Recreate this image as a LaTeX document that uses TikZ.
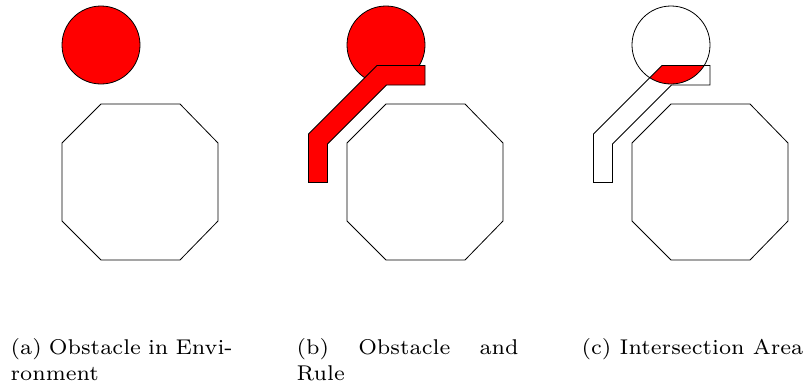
\documentclass[tikz,border=0pt]{standalone}
\tikzset{
  outline/.style={draw=black, line width=0.8pt, line join=miter},
  obstacle/.style={outline, fill=red},
  caption/.style={anchor=north west, inner sep=0pt, scale=3.05,
    text width=72.8pt, align=justify, font=\fontsize{7}{8.36}\selectfont}
}
\begin{document}
\begin{tikzpicture}[x=1pt, y=-1pt]
  \useasboundingbox (0,0) rectangle (805,389);

  % panel (a): obstacle next to the robot
  \begin{scope}
    \draw[obstacle] (101,45) circle (39);
    \draw[outline] (101,104) -- (180,104) -- (218,143) -- (218,221)
      -- (180,260) -- (101,260) -- (62,221) -- (62,143) -- cycle;
  \end{scope}

  % panel (b): obstacle and rule region
  \begin{scope}[shift={(285,0)}]
    \draw[obstacle] (101,45) circle (39);
    \draw[obstacle] (23.5,134) -- (92,65.5) -- (140,65.5) -- (140,85)
      -- (101.5,85) -- (42.5,144) -- (42.5,182.5) -- (23.5,182.5) -- cycle;
    \draw[outline] (101,104) -- (180,104) -- (218,143) -- (218,221)
      -- (180,260) -- (101,260) -- (62,221) -- (62,143) -- cycle;
  \end{scope}

  % panel (c): overlap of obstacle and rule region
  \begin{scope}[shift={(570,0)}]
    \begin{scope}
      \clip (101,45) circle (39);
      \fill[red] (23.5,134) -- (92,65.5) -- (140,65.5) -- (140,85)
        -- (101.5,85) -- (42.5,144) -- (42.5,182.5) -- (23.5,182.5) -- cycle;
    \end{scope}
    \draw[outline] (101,45) circle (39);
    \draw[outline] (23.5,134) -- (92,65.5) -- (140,65.5) -- (140,85)
      -- (101.5,85) -- (42.5,144) -- (42.5,182.5) -- (23.5,182.5) -- cycle;
    \draw[outline] (101,104) -- (180,104) -- (218,143) -- (218,221)
      -- (180,260) -- (101,260) -- (62,221) -- (62,143) -- cycle;
  \end{scope}

  % sub-captions
  \node[caption] (capa) at (10,338) {(a) Obstacle in Envi-\linebreak ronment};
  \node[caption] (capb) at (296,338) {(b) Obstacle and\linebreak Rule};
  \node[caption] (capc) at (581,338) {(c) Intersection Area};
\end{tikzpicture}
\end{document}
